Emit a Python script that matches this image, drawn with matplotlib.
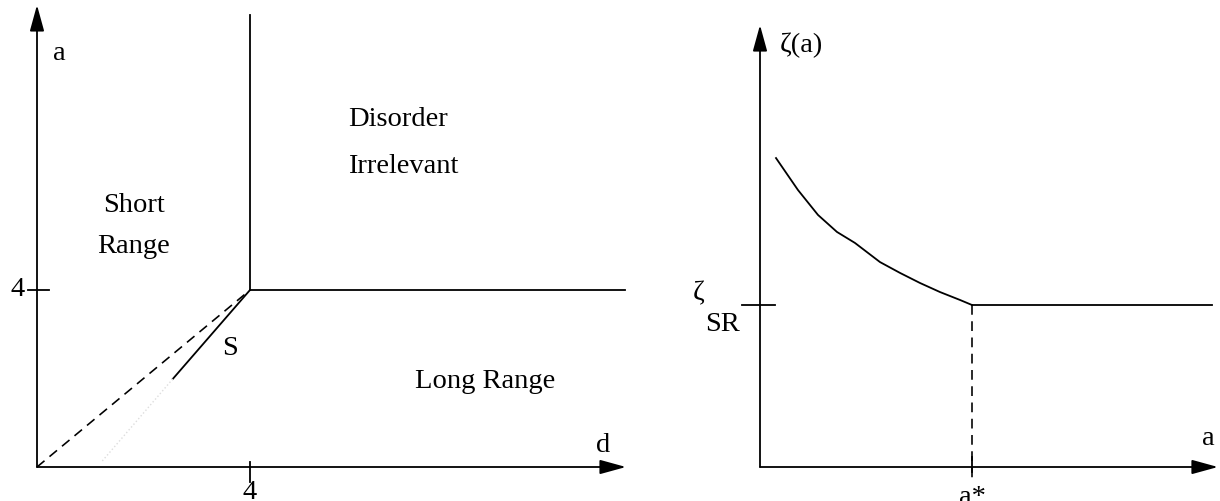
import matplotlib
matplotlib.use("Agg")
import matplotlib.pyplot as plt

plt.rcParams['font.family'] = ['Liberation Serif', 'DejaVu Serif']

# left panel: phase diagram in (d, a)
crit_d, crit_a = 4.0, 4.0
s_end = (2.55, 1.99)          # end of the solid S segment
s_dotted_end = (1.2, 0.1)     # faint dotted continuation
top_a = 10.21
right_d = 11.04
axis_top_a = 10.44
axis_right_d = 11.06

# right panel: zeta(a)
curve_a = [0.151, 0.358, 0.547, 0.726, 0.896, 1.132, 1.321, 1.509, 1.698, 1.887, 2.0]
curve_z = [1.907, 1.710, 1.556, 1.451, 1.383, 1.265, 1.198, 1.136, 1.080, 1.031, 1.0]
a_star = 2.0
zeta_sr = 1.0
flat_end = 4.26
r_axis_top = 2.728
r_axis_right = 4.32

fig = plt.figure(figsize=(12.2, 5.01), dpi=100)
lw = 1.3
fs = 20.5
arrow = dict(arrowstyle='-|>,head_length=0.8,head_width=0.22', mutation_scale=20,
             lw=lw, color='k', shrinkA=0, shrinkB=0)

# ---- left
ax = fig.add_axes([0, 0, 640 / 1220, 1])
ax.set_xlim(-37 / 53.25, (640 - 37) / 53.25)
ax.set_ylim(-34 / 44.25, 467 / 44.25)
ax.axis('off')

ax.annotate("", xy=(0, axis_top_a), xytext=(0, 0), arrowprops=arrow)
ax.annotate("", xy=(axis_right_d, 0), xytext=(0, 0), arrowprops=arrow)
ax.plot([crit_d, crit_d], [crit_a, top_a], 'k-', lw=lw)
ax.plot([crit_d, right_d], [crit_a, crit_a], 'k-', lw=lw)
ax.plot([crit_d, s_end[0]], [crit_a, s_end[1]], 'k-', lw=lw)
ax.plot([0, crit_d], [0, crit_a], 'k--', lw=lw * 0.9, dashes=(6, 4))
ax.plot([s_end[0], s_dotted_end[0]], [s_end[1], s_dotted_end[1]], ':', color='#dddddd', lw=1)
ax.plot([-0.17, 0.225], [crit_a, crit_a], 'k-', lw=lw)
ax.plot([crit_d, crit_d], [0.11, -0.34], 'k-', lw=lw)

ax.text(-0.225, crit_a, "4", fontsize=fs, ha='right', va='center')
ax.text(crit_d, -0.29, "4", fontsize=fs, ha='center', va='top')
ax.text(0.30, 9.2, "a", fontsize=fs, ha='left', va='baseline')
ax.text(10.5, 0.34, "d", fontsize=fs, ha='left', va='baseline')
ax.text(1.82, 5.76, "Short", fontsize=fs, ha='center', va='baseline')
ax.text(1.82, 4.84, "Range", fontsize=fs, ha='center', va='baseline')
ax.text(5.84, 7.71, "Disorder", fontsize=fs, ha='left', va='baseline')
ax.text(5.84, 6.64, "Irrelevant", fontsize=fs, ha='left', va='baseline')
ax.text(7.10, 1.785, "Long Range", fontsize=fs, ha='left', va='baseline')
ax.text(3.47, 2.53, "S", fontsize=fs, ha='left', va='baseline')

# ---- right
bx = fig.add_axes([640 / 1220, 0, 580 / 1220, 1])
bx.set_xlim((640 - 760) / 106, (1220 - 760) / 106)
bx.set_ylim(-34 / 162, 467 / 162)
bx.axis('off')

bx.annotate("", xy=(0, r_axis_top), xytext=(0, 0), arrowprops=arrow)
bx.annotate("", xy=(r_axis_right, 0), xytext=(0, 0), arrowprops=arrow)
bx.plot(curve_a, curve_z, 'k-', lw=lw, solid_joinstyle='round')
bx.plot([a_star, flat_end], [zeta_sr, zeta_sr], 'k-', lw=lw)
bx.plot([a_star, a_star], [zeta_sr, -0.08], 'k--', lw=lw * 0.9, dashes=(6, 4))
bx.plot([a_star, a_star], [0.062, -0.031], 'k-', lw=lw)
bx.plot([-0.17, 0.142], [zeta_sr, zeta_sr], 'k-', lw=lw)

bx.text(0.19, 2.56, "ζ(a)", fontsize=fs, ha='left', va='baseline')
bx.text(-0.63, 1.03, "ζ", fontsize=fs, ha='left', va='baseline')
bx.text(-0.52, 0.84, "SR", fontsize=fs, ha='left', va='baseline')
bx.text(4.17, 0.136, "a", fontsize=fs, ha='left', va='baseline')
bx.text(a_star, -0.11, "a*", fontsize=fs, ha='center', va='top')

fig.savefig("out.png", dpi=100)
